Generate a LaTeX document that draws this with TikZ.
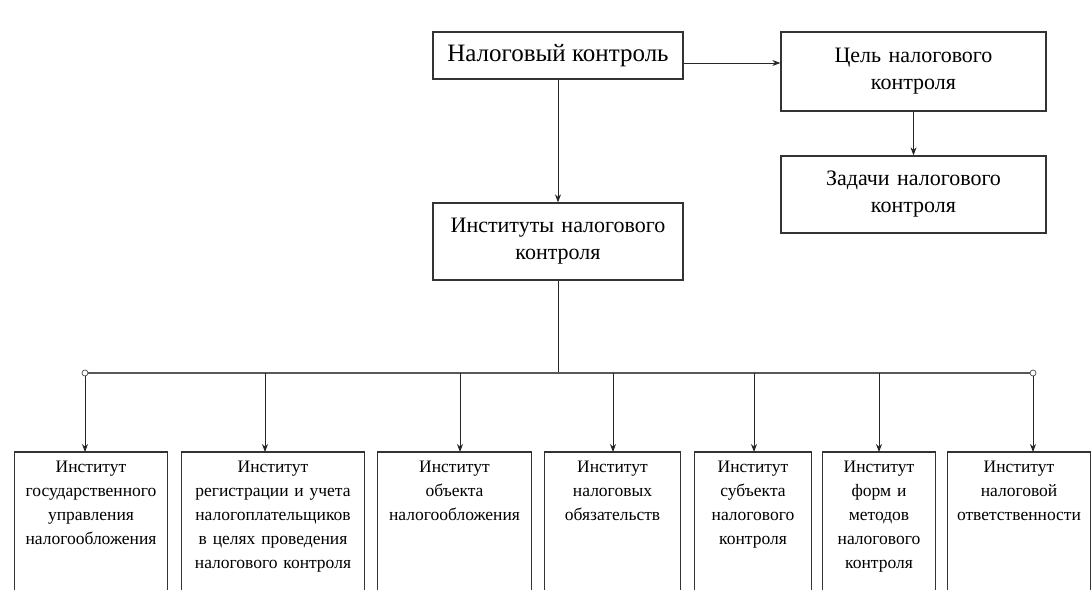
\documentclass[tikz,border=0pt]{standalone}
\usepackage{fontspec}
\setmainfont{Liberation Serif}
\usetikzlibrary{arrows.meta}
\begin{document}
\begin{tikzpicture}[x=1pt,y=-1pt,
  topbox/.style={draw=black!80,line width=1.3pt,align=center,inner sep=0pt,
     font=\fontsize{22}{27}\selectfont},
  insttext/.style={align=center,anchor=north,inner xsep=0pt,
     inner ysep=9pt,font=\fontsize{17.5}{24}\selectfont},
  frame/.style={draw=black!80,line width=1.3pt},
  conn/.style={draw=black!85,line width=0.8pt,-{Stealth[length=8pt,width=6pt]}},
  bus/.style={draw=black!65,line width=1.8pt},
  endpt/.style={circle,draw=black!70,fill=white,inner sep=0pt,minimum size=6pt,line width=0.7pt}]
\useasboundingbox (0,0) rectangle (1092,589);
\clip (0,0) rectangle (1092,589);
\fill[white] (0,0) rectangle (1092,589);

\node[topbox,minimum width=250pt,minimum height=47pt,font=\fontsize{25}{30}\selectfont] (nk) at (558,55.5) {Налоговый контроль};
\node[topbox,minimum width=265pt,minimum height=79pt,text width=260pt] (ce) at (913.5,71.5) {Цель налогового\\контроля};
\node[topbox,minimum width=265pt,minimum height=77pt,text width=260pt] (za) at (913.5,194.5) {Задачи налогового\\контроля};
\node[topbox,minimum width=250pt,minimum height=77pt,text width=246pt] (in) at (558,241.5) {Институты налогового\\контроля};

\draw[conn] ([yshift=-7.5pt]nk.east) coordinate (a1) -- (a1 -| ce.west);
\draw[conn] (nk.south) -- (in.north);
\draw[conn] (ce.south) -- (za.north);

\node[insttext,text width=152pt] (b1) at (91,452) {Институт\\государственного\\управления\\налогообложения};
\node[insttext,text width=182pt] (b2) at (273,452) {Институт\\регистрации и учета\\налогоплательщиков\\в целях проведения\\налогового контроля};
\node[insttext,text width=153pt] (b3) at (454.5,452) {Институт\\объекта\\налогообложения};
\node[insttext,text width=135pt] (b4) at (612.5,452) {Институт\\налоговых\\обязательств};
\node[insttext,text width=116pt] (b5) at (753,452) {Институт\\субъекта\\налогового\\контроля};
\node[insttext,text width=112pt] (b6) at (879,452) {Институт\\форм и\\методов\\налогового\\контроля};
\node[insttext,text width=142pt] (b7) at (1019,452) {Институт\\налоговой\\ответственности};
\foreach \i in {1,...,7} {
  \draw[frame] (b\i.north west) rectangle ([yshift=-170pt]b\i.north east);
}

\coordinate (j) at (558,373);
\coordinate (d1) at (85,373);
\coordinate (d2) at (265,373);
\coordinate (d3) at (460,373);
\coordinate (d4) at (613,373);
\coordinate (d5) at (754,373);
\coordinate (d6) at (879,373);
\coordinate (d7) at (1033,373);

\draw[draw=black!85,line width=0.8pt] (in.south) -- (j);
\draw[bus] (d1) -- (d7);
\foreach \i in {1,...,7} {
  \draw[conn] (d\i) -- (d\i |- b\i.north);
}
\node[endpt] (e1) at (d1) {};
\node[endpt] (e7) at (d7) {};
\end{tikzpicture}
\end{document}
